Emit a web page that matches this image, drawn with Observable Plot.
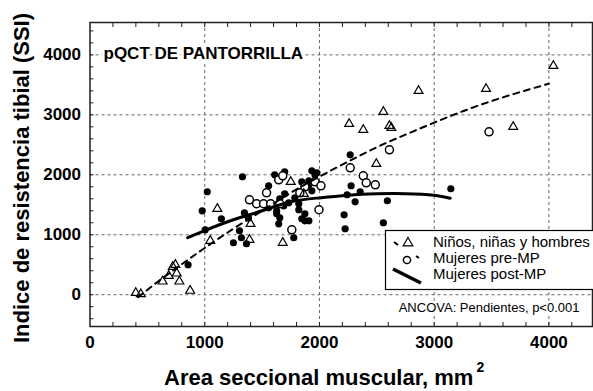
<!DOCTYPE html>
<html><head><meta charset="utf-8">
<script src="https://cdn.jsdelivr.net/npm/d3@7"></script>
<script src="https://cdn.jsdelivr.net/npm/@observablehq/plot@0.6"></script>
<style>
body{margin:0;background:#fff;}
#chart{width:593px;height:391px;overflow:hidden;}
</style></head><body><div id="chart"></div>
<script>
// Niños, niñas y hombres (triangles)
const ninosX = [399,443,633,686,721,744,756,779,873,1048,1110,1399,1390,1680,1750,1864,2259,2382,2557,2610,2627,2864,3452,3689,4039,2496];
const ninosY = [30,10,222,317,467,500,355,222,67,900,1433,1183,917,867,1883,1683,2850,2750,3050,2817,2783,3400,3433,2800,3817,2183];
// Mujeres pre-MP (open circles)
const preX = [1390,1452,1513,1539,1575,1645,1654,1680,1759,1829,1873,1961,2013,1996,2268,2382,2408,2487,2610,3478];
const preY = [1583,1517,1517,1700,1517,1917,1517,1983,1083,1700,1800,1883,1817,1417,2117,1983,1867,1833,2417,2717];
// Mujeres post-MP (filled dots)
const postX = [855,1022,978,1004,1145,1329,1250,1320,1364,1303,1346,1380,1610,1697,1934,1961,1978,1846,1908,1557,1697,1785,1627,1654,1645,1820,1873,1846,1908,1776,1557,1689,1654,1732,1627,1820,1873,1908,1934,2276,2355,2241,2311,2592,3145,2215,2557,2224,2268];
const postY = [500,1717,1400,1083,1267,1967,867,950,850,1067,1367,1280,2000,2050,2067,2000,2033,1883,1833,1817,1683,1617,1400,1283,1183,1517,1350,1267,1233,950,1450,1483,1600,1533,1350,1417,1233,1900,1733,1817,1717,1667,1550,1567,1767,1333,1200,1100,2333];
// Fitted curves
const fitNinosX = [420,600,800,1000,1250,1500,1750,2000,2250,2500,2750,3000,3250,3500,3750,4000];
const fitNinosY = [-40,230,510,780,1100,1400,1700,1970,2220,2460,2670,2870,3060,3230,3380,3520];
const fitPostX = [850,1000,1250,1500,1750,2000,2250,2500,2750,3000,3140];
const fitPostY = [950,1070,1250,1400,1550,1615,1660,1683,1685,1660,1610];

const xTicks = [0,1000,2000,3000,4000];
const yTicks = [0,1000,2000,3000,4000];
const legendLabels = ["Niños, niñas y hombres","Mujeres pre-MP","Mujeres post-MP"];
const titleText = "pQCT DE PANTORRILLA";
const noteText = "ANCOVA: Pendientes, p<0.001";
const xLabel = "Area seccional muscular, mm";
const xLabelSup = "2";
const yLabel = "Indice de resistencia tibial (SSI)";

const zip = (xs, ys) => xs.map((x, i) => ({x, y: ys[i]}));
const tri = zip(ninosX, ninosY), pre = zip(preX, preY), post = zip(postX, postY);
const fitN = zip(fitNinosX, fitNinosY), fitP = zip(fitPostX, fitPostY);
const minorX = d3.range(200, 4400, 200);
const minorY = d3.range(-400, 4540, 200);
const font = "'Liberation Sans', Arial, sans-serif";

const svg = Plot.plot({
  width: 593, height: 391,
  marginLeft: 89.5, marginRight: 1, marginTop: 22, marginBottom: 65,
  x: {domain: [0, 4380]},
  y: {domain: [-530, 4540]},
  style: {fontFamily: font, background: "#fff", color: "#000"},
  marks: [
    Plot.ruleX(xTicks.slice(1), {stroke: "#666", strokeDasharray: "3,3"}),
    Plot.ruleY(yTicks, {stroke: "#666", strokeDasharray: "3,3"}),
    Plot.axisX({anchor: "bottom", ticks: minorX, tickSize: 4, dy: -4, text: null, label: null, stroke: "#222"}),
    Plot.axisX({anchor: "top", ticks: minorX, tickSize: 4, dy: 4, text: null, label: null, stroke: "#222"}),
    Plot.axisY({anchor: "left", ticks: minorY, tickSize: 4, dx: 4, text: null, label: null, stroke: "#222"}),
    Plot.axisX({anchor: "bottom", ticks: xTicks, tickSize: 0, tickPadding: 9, tickFormat: d => String(d), label: null, fontSize: 17, fontWeight: "bold"}),
    Plot.axisY({anchor: "left", ticks: yTicks, tickSize: 0, tickPadding: 9, tickFormat: d => String(d), label: null, fontSize: 17, fontWeight: "bold"}),
    Plot.frame({stroke: "#222", strokeWidth: 1.5}),
    Plot.dot(post, {x: "x", y: "y", r: 3.6, fill: "#000", stroke: "none"}),
    Plot.dot(pre, {x: "x", y: "y", r: 4, fill: "#fff", stroke: "#000", strokeWidth: 1.5}),
    Plot.dot(tri, {x: "x", y: "y", symbol: "triangle", r: 3.3, fill: "none", stroke: "#000", strokeWidth: 1.2}),
    Plot.line(fitN, {x: "x", y: "y", stroke: "#000", strokeWidth: 2, strokeDasharray: "6,5", curve: "natural"}),
    Plot.line(fitP, {x: "x", y: "y", stroke: "#000", strokeWidth: 3, curve: "natural"}),
    Plot.text([titleText], {frameAnchor: "top-left", dx: 13.5, dy: 31, text: d => d, textAnchor: "start", lineAnchor: "middle", fontSize: 17, fontWeight: "bold", fill: "#000", stroke: "#fff", strokeWidth: 6}),
    Plot.text([noteText], {frameAnchor: "bottom-right", dx: -13, dy: -19, text: d => d, textAnchor: "end", lineAnchor: "middle", fontSize: 13, fill: "#000", stroke: "#fff", strokeWidth: 5})
  ]
});
document.getElementById("chart").appendChild(svg);

const s = d3.select(svg);
// Axis titles
s.append("text")
  .attr("transform", "translate(23,178) rotate(-90)")
  .attr("text-anchor", "middle").attr("dominant-baseline", "middle")
  .attr("font-family", font).attr("font-size", 22).attr("font-weight", "bold")
  .attr("fill", "#000").text(yLabel);
const xt = s.append("text")
  .attr("x", 164).attr("y", 385).attr("text-anchor", "start")
  .attr("font-family", font).attr("font-size", 22).attr("font-weight", "bold").attr("fill", "#000");
xt.append("tspan").text(xLabel);
xt.append("tspan").attr("dx", 3).attr("dy", -13).attr("font-size", 14).text(xLabelSup);

// Legend
const lg = s.append("g").attr("font-family", font).attr("text-anchor", "start");
lg.append("rect").attr("x", 385.5).attr("y", 230.5).attr("width", 220).attr("height", 59)
  .attr("fill", "#fff").attr("stroke", "#000").attr("stroke-width", 1.2);
const rowsY = [243, 259, 275];
// row 1: dash + triangle
lg.append("line").attr("x1", 394).attr("y1", 242).attr("x2", 398).attr("y2", 245).attr("stroke", "#000").attr("stroke-width", 2);
lg.append("path").attr("d", d3.symbol(d3.symbolTriangle, 40)()).attr("transform", `translate(408,${rowsY[0]})`)
  .attr("fill", "none").attr("stroke", "#000").attr("stroke-width", 1.2);
// row 2: circle + dash
lg.append("circle").attr("cx", 407).attr("cy", rowsY[1] + 1).attr("r", 3.6).attr("fill", "#fff").attr("stroke", "#000").attr("stroke-width", 1.5);
lg.append("line").attr("x1", 416).attr("y1", 256).attr("x2", 419).attr("y2", 258).attr("stroke", "#000").attr("stroke-width", 2);
// row 3: thick slanted line
lg.append("line").attr("x1", 393).attr("y1", 269).attr("x2", 421).attr("y2", 283).attr("stroke", "#000").attr("stroke-width", 3.5);
legendLabels.forEach((t, i) => {
  lg.append("text").attr("x", 433).attr("y", rowsY[i]).attr("dominant-baseline", "middle")
    .attr("text-anchor", "start").attr("font-size", 15).attr("fill", "#000").text(t);
});
</script>
</body></html>
